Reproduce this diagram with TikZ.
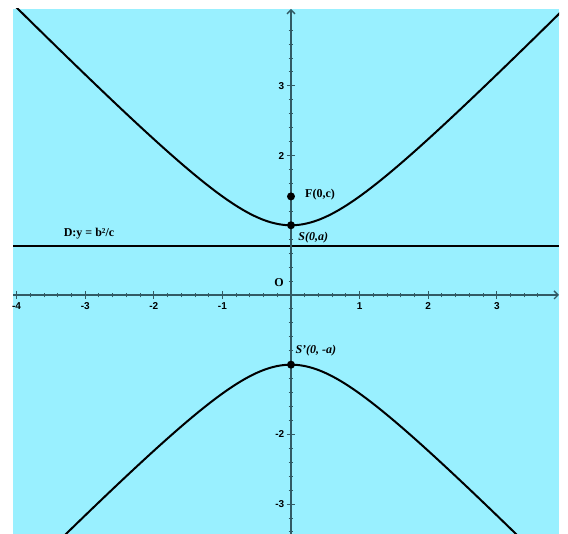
\documentclass[tikz,border=0pt]{standalone}
\usepackage{fontspec}
\setmainfont{Liberation Serif}
\newfontfamily\ticksf{Liberation Sans}
\usetikzlibrary{arrows.meta}
\definecolor{skyfill}{RGB}{153,240,255}
\definecolor{axiscol}{RGB}{50,90,100}

\tikzset{
  axisline/.style={axiscol, line width=1.4pt, -{Straight Barb[length=4pt,width=8pt]}},
  minortick/.style={axiscol, line width=0.9pt},
  majortick/.style={axiscol, line width=1.1pt},
  ticklabel/.style={font=\ticksf\bfseries\fontsize{10}{11}\selectfont, inner sep=0pt},
  curvelabel/.style={font=\bfseries\fontsize{12}{13}\selectfont, inner sep=0pt},
  dotmark/.style={fill=black, circle, inner sep=0pt, minimum size=8pt}
}

\begin{document}
\begin{tikzpicture}[x=68.6pt, y=69.7pt]
\useasboundingbox (-4.242,-3.429) rectangle (4.038,4.232);
\fill[skyfill] (-4.052,-3.429) rectangle (3.907,4.103);

% directrix
\draw[line width=1.9pt] (-4.052,0.7071) -- (3.907,0.7071);

% axes
\draw[axisline] (-4.052,0) -- (3.907,0);
\draw[axisline] (0,-3.429) -- (0,4.103);
\foreach \t in {-4,-3.8,...,3.7}
  \draw[minortick] (\t,0) ++(0,-2.3pt) -- ++(0,4.6pt);
\foreach \t in {-3.4,-3.2,...,3.9}
  \draw[minortick] (0,\t) ++(-2.3pt,0) -- ++(4.6pt,0);
\foreach \t in {-4,...,3}
  \draw[majortick] (\t,0) ++(0,-4pt) -- ++(0,8pt);
\foreach \t in {-3,...,3}
  \draw[majortick] (0,\t) ++(-4pt,0) -- ++(8pt,0);
\foreach \t in {-4,-3,-2,-1,1,2,3}
  \node[ticklabel, anchor=north, yshift=-7pt] at (\t,0) {\t};
\foreach \t in {-3,-2,2,3}
  \node[ticklabel, anchor=east, xshift=-6.5pt] at (0,\t) {\t};

% hyperbola y^2 - x^2 = 1
\begin{scope}
\clip (-4.052,-3.429) rectangle (3.907,4.103);
\draw[line width=2pt, domain=-4.2:4.1, samples=120, smooth] plot (\x, {sqrt(1+\x*\x)});
\draw[line width=2pt, domain=-4.2:4.1, samples=120, smooth] plot (\x, {-sqrt(1+\x*\x)});
\end{scope}

\node[dotmark] (focus) at (0,1.4142) {};
\node[dotmark] (vtop) at (0,1) {};
\node[dotmark] (vbot) at (0,-1) {};

\node[curvelabel, anchor=west] (flabel) at (0.204,1.435) {F(0,c)};
\node[curvelabel, anchor=west] (slabel) at (0.106,0.818) {\itshape S(0,a)};
\node[curvelabel] (olabel) at (-0.175,0.172) {O};
\node[curvelabel, anchor=west] (splabel) at (0.063,-0.803) {\itshape S'(0, -a)};
\node[curvelabel] (dlabel) at (-2.945,0.875) {D:y = b²/c};
\end{tikzpicture}
\end{document}
